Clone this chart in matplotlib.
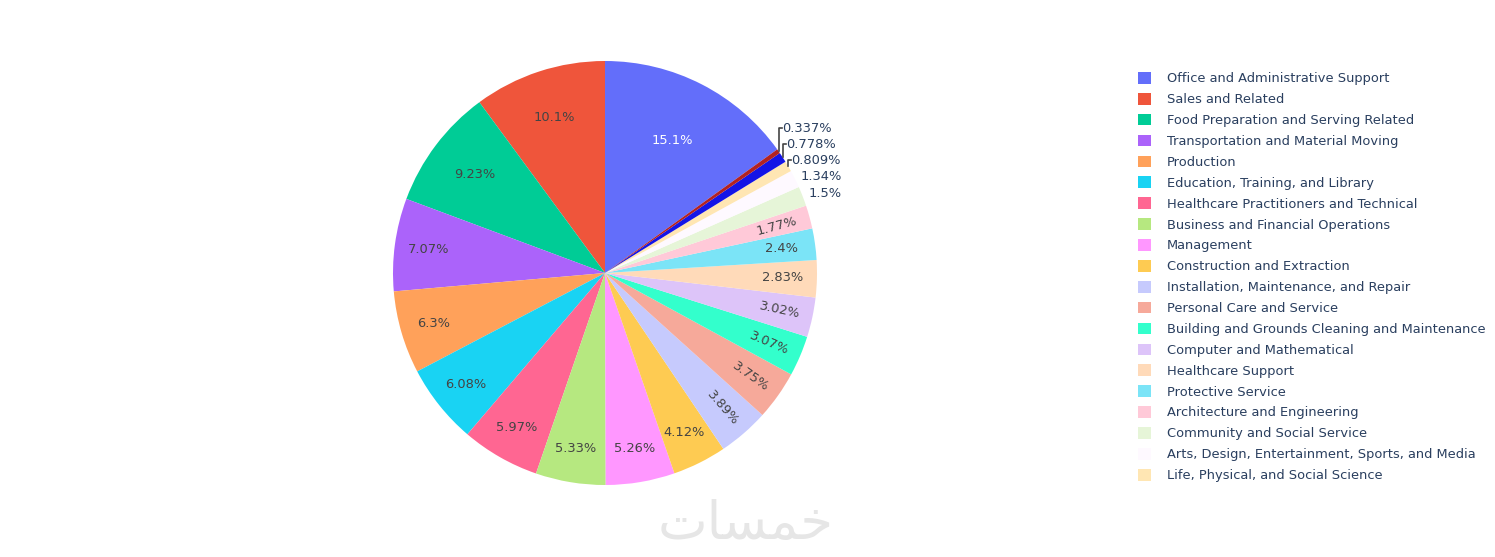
import matplotlib
matplotlib.use('Agg')
import matplotlib.pyplot as plt
import numpy as np

# occupation groups, share of employment (%) as shown on the chart
categories = [
    'Office and Administrative Support', 'Sales and Related',
    'Food Preparation and Serving Related', 'Transportation and Material Moving',
    'Production', 'Education, Training, and Library',
    'Healthcare Practitioners and Technical', 'Business and Financial Operations',
    'Management', 'Construction and Extraction',
    'Installation, Maintenance, and Repair', 'Personal Care and Service',
    'Building and Grounds Cleaning and Maintenance', 'Computer and Mathematical',
    'Healthcare Support', 'Protective Service', 'Architecture and Engineering',
    'Community and Social Service', 'Arts, Design, Entertainment, Sports, and Media',
    'Life, Physical, and Social Science', 'Legal', 'Farming, Fishing, and Forestry',
]
shares = [15.1, 10.1, 9.23, 7.07, 6.3, 6.08, 5.97, 5.33, 5.26, 4.12,
          3.89, 3.75, 3.07, 3.02, 2.83, 2.4, 1.77, 1.5, 1.34, 0.809, 0.778, 0.337]
colors = ['#636EFA', '#EF553B', '#00CC96', '#AB63FA', '#FFA15A', '#19D3F3',
          '#FF6692', '#B6E880', '#FF97FF', '#FECB52', '#C6CAFD', '#F6A99A',
          '#33FFCC', '#DDC4F9', '#FFDAB9', '#7BE4F7', '#FFC9D8', '#E6F5D8',
          '#FEF9FF', '#FFE6B3', '#1414E6', '#B22222']
n_legend = 20  # legend is cut off after 20 entries

W, H = 1495, 557
fig = plt.figure(figsize=(W / 100, H / 100), dpi=100)
cx, cy, R = 605, 273, 212
ax = fig.add_axes([(cx - R) / W, (H - cy - R) / H, 2 * R / W, 2 * R / H])

start = 90 - 360 * shares[0] / sum(shares)
wedges, _ = ax.pie(shares, colors=colors, startangle=start, counterclock=True,
                   radius=1, wedgeprops=dict(linewidth=0))
ax.set_xlim(-1, 1)
ax.set_ylim(-1, 1)
ax.set_aspect('equal')
ax.axis('off')

fs = 9.4
prev_y = -10
for w, v in zip(wedges, shares):
    mid = np.deg2rad((w.theta1 + w.theta2) / 2)
    ang = np.rad2deg(mid) % 360
    norm = ang if ang <= 90 else (ang - 180 if ang < 270 else ang - 360)
    txt = '{:.3g}%'.format(v)
    if v >= 1.6:
        r = 0.7 if v > 12 else (0.77 if v > 8 else 0.84)
        rot = norm if (v < 4 and abs(norm) >= 10) else 0
        col = 'white' if v > 12 else '#444444'
        ax.text(r * np.cos(mid), r * np.sin(mid), txt, ha='center', va='center',
                rotation=rot, rotation_mode='anchor', fontsize=fs, color=col)
    else:
        tx = 1.03 * np.cos(mid)
        ty = max(1.03 * np.sin(mid), prev_y + 0.075)
        if ty - 1.03 * np.sin(mid) > 0.005:
            ex, ey = np.cos(mid), np.sin(mid)
            ax.plot([ex, ex, ex + 0.015], [ey, ty, ty], color='#444444',
                    lw=1.2, clip_on=False)
            tx = ex + 0.015
        ax.text(tx, ty, txt, ha='left', va='center', fontsize=fs,
                color='#2a3f5f', clip_on=False)
        prev_y = ty

fig.legend(wedges[:n_legend], categories[:n_legend], loc='upper left',
           bbox_to_anchor=(1138 / W, 1 - 72 / H), frameon=False,
           fontsize=fs, labelcolor='#2a3f5f', handlelength=1.0, handleheight=1.0,
           handletextpad=1.2, labelspacing=0.58, borderpad=0, borderaxespad=0)

# watermark
fig.text(746 / W, 1 - 524 / H, '\uFE95\uFE8E\uFEB4\uFEE4\uFEA7', ha='center',
         va='center', fontsize=38, color='#e6e6e6', family=['DejaVu Sans'])

plt.savefig('out.png', dpi=100)
